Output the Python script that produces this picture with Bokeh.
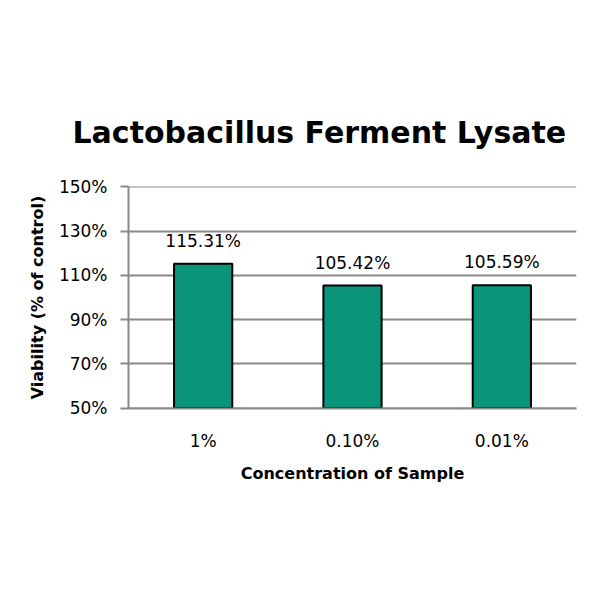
from bokeh.plotting import figure
from bokeh.models import ColumnDataSource, LabelSet, FixedTicker, CustomJSTickFormatter
from bokeh.core.properties import value
from bokeh.embed import file_html
from bokeh.resources import INLINE

categories = ["1%", "0.10%", "0.01%"]
values = [115.31, 105.42, 105.59]
value_labels = ["115.31%", "105.42%", "105.59%"]
y_ticks = [50, 70, 90, 110, 130, 150]
title_text = "Lactobacillus Ferment Lysate"
x_title = "Concentration of Sample"
y_title = "Viability (% of control)"

FONT = "DejaVu Sans"
GRID = "#888888"
BAR = "#0a9479"

source = ColumnDataSource(dict(cat=categories, val=values, lab=value_labels,
                               base=[y_ticks[0]] * len(values)))

p = figure(width=584, height=584, x_range=categories, y_range=(y_ticks[0] - 0.2, y_ticks[-1] + 0.2),
           output_backend="svg", toolbar_location=None,
           min_border_left=128, min_border_right=8, min_border_top=186, min_border_bottom=176)

p.vbar(x="cat", top="val", bottom="base", width=0.39, source=source,
       fill_color=BAR, line_color="black", line_width=2)

labels = LabelSet(x="cat", y="val", text="lab", source=source, text_align="center",
                  text_baseline="bottom", y_offset=13, text_font=value(FONT),
                  text_font_size=value("17px"), text_color="black")
p.add_layout(labels)

p.title.text = title_text
p.title.align = "left"
p.title.offset = -56
p.title.standoff = 74
p.title.text_font = FONT
p.title.text_font_style = "bold"
p.title.text_font_size = "30px"
p.title.text_color = "black"

p.outline_line_color = None
p.xgrid.grid_line_color = None
p.ygrid.grid_line_color = GRID
p.ygrid.grid_line_width = 2
p.yaxis.ticker = FixedTicker(ticks=y_ticks)
p.yaxis.formatter = CustomJSTickFormatter(code="return tick + '%';")

p.yaxis.axis_line_color = GRID
p.yaxis.axis_line_width = 2
p.yaxis.major_tick_line_color = GRID
p.yaxis.major_tick_line_width = 2
p.yaxis.major_tick_out = 8
p.yaxis.major_tick_in = 0
p.yaxis.minor_tick_line_color = None
p.yaxis.major_label_standoff = 13
p.yaxis.major_label_text_font = FONT
p.yaxis.major_label_text_font_size = "17px"
p.yaxis.major_label_text_color = "black"
p.yaxis.axis_label = y_title
p.yaxis.axis_label_text_font = FONT
p.yaxis.axis_label_text_font_style = "bold"
p.yaxis.axis_label_text_font_size = "16px"
p.yaxis.axis_label_text_color = "black"
p.yaxis.axis_label_standoff = 9

p.xaxis.axis_line_color = GRID
p.xaxis.axis_line_width = 2
p.xaxis.major_tick_line_color = None
p.xaxis.minor_tick_line_color = None
p.xaxis.major_label_standoff = 16
p.xaxis.major_label_text_font = FONT
p.xaxis.major_label_text_font_size = "17px"
p.xaxis.major_label_text_color = "black"
p.xaxis.axis_label = x_title
p.xaxis.axis_label_text_font = FONT
p.xaxis.axis_label_text_font_style = "bold"
p.xaxis.axis_label_text_font_size = "16px"
p.xaxis.axis_label_text_color = "black"
p.xaxis.axis_label_standoff = 10

open("out.html", "w").write(file_html(p, INLINE))
